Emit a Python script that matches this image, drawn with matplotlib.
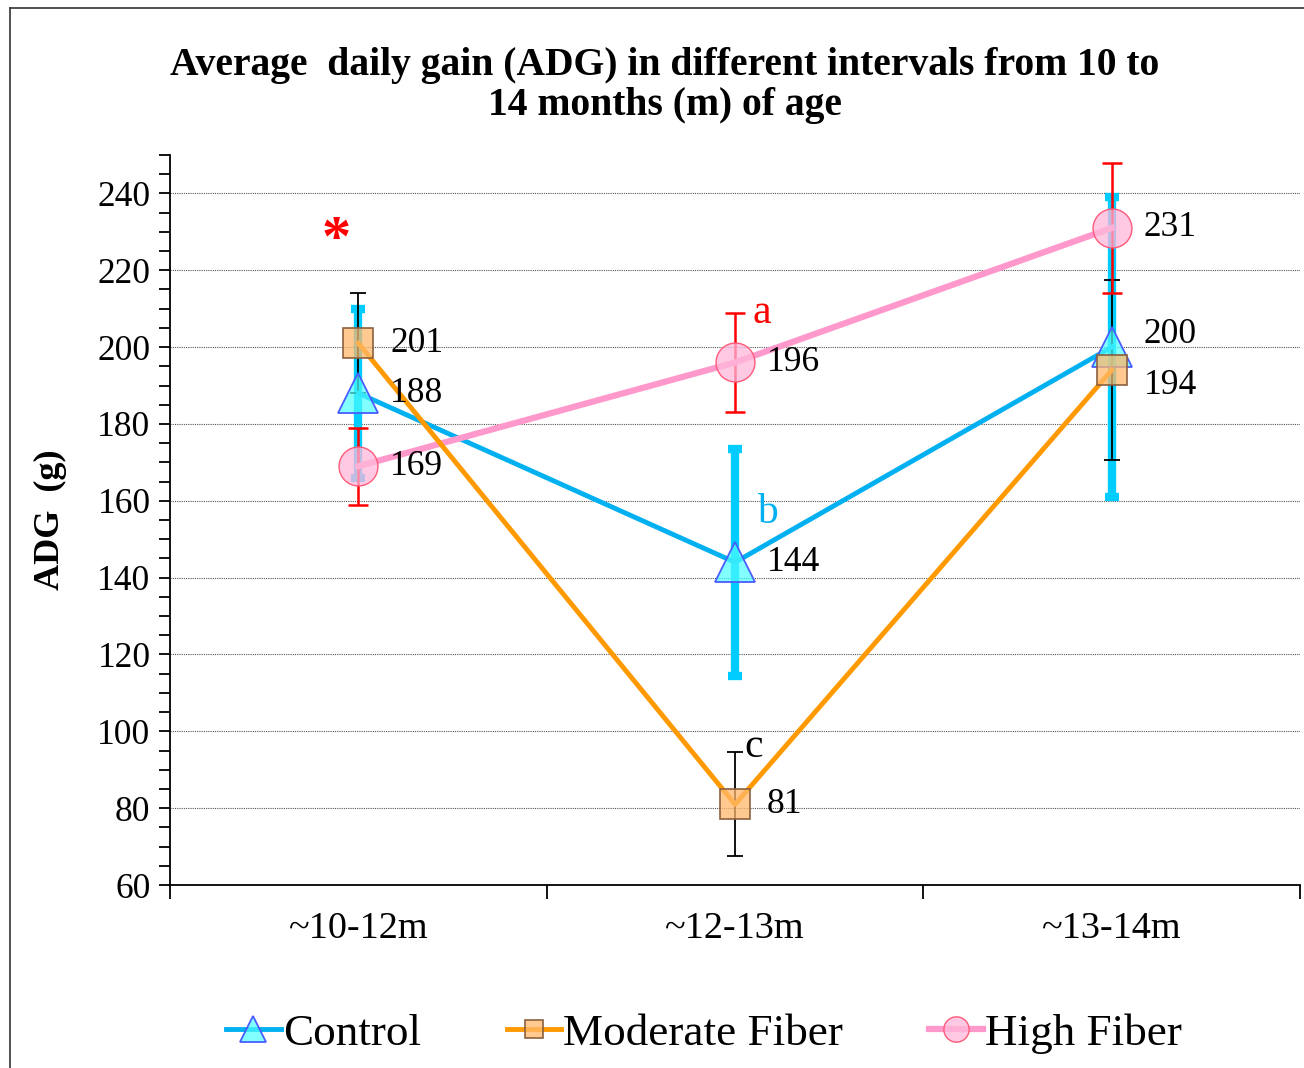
import numpy as np
import matplotlib
matplotlib.use("Agg")
import matplotlib.pyplot as plt
from matplotlib.lines import Line2D
from matplotlib.ticker import MultipleLocator, FixedLocator

plt.rcParams['font.family'] = ['Liberation Serif', 'DejaVu Serif']

# data
intervals = ['~10-12m', '~12-13m', '~13-14m']
control = [188, 144, 200]
control_err = [22, 29.5, 39]
moderate = [201, 81, 194]
moderate_err = [13, 13.5, 23.5]
high = [169, 196, 231]
high_err = [10, 13, 17]

# significance marks
sig_text = ['*', 'a', 'b', 'c']
sig_x = [-0.06, 1.07, 1.085, 1.05]
sig_y = [227.5, 209, 157, 96]
sig_col = ['red', 'red', '#00B0F0', 'black']

x = np.arange(len(intervals))

fig = plt.figure(figsize=(13.04, 10.68), dpi=100)
ax = fig.add_axes([0.1304, 0.1713, 0.8666, 0.6836])

# error bars first (cyan thick at the back)
ax.errorbar(x, control, yerr=control_err, fmt='none', ecolor='#00CCFF',
            elinewidth=6, capsize=5, capthick=6, zorder=2)
ax.errorbar(x, moderate, yerr=moderate_err, fmt='none', ecolor='black',
            elinewidth=1.3, capsize=6, capthick=1.3, zorder=3)
ax.errorbar(x, high, yerr=high_err, fmt='none', ecolor='red',
            elinewidth=1.8, capsize=7, capthick=1.8, zorder=3)

ax.plot(x, control, color='#00B0F0', lw=3.5, marker='^', ms=29,
        mfc=(0.3, 1.0, 1.0, 0.7), mec='#4A5CFF', mew=1.3, label='Control', zorder=4)
ax.plot(x, high, color='#FF99CC', lw=4.5, marker='o', ms=28,
        mfc=(1.0, 0.72, 0.86, 0.75), mec='#FF5A7A', mew=1.0, label='High Fiber', zorder=5)
ax.plot(x, moderate, color='#FF9900', lw=3.5, marker='s', ms=21,
        mfc=(1.0, 0.72, 0.42, 0.75), mec='#8B6040', mew=1.2, label='Moderate Fiber', zorder=6)

# value labels
offs = {'c': [(23, 0), (23, 0), (23, 9)],
        'm': [(23, 0), (23, 0), (23, -11)],
        'h': [(23, 0), (23, 0), (23, 0)]}
for key, vals in (('c', control), ('m', moderate), ('h', high)):
    for i, v in enumerate(vals):
        ax.annotate(str(v), (x[i], v), xytext=offs[key][i], textcoords='offset points',
                    ha='left', va='center', fontsize=25.5, zorder=7)

for t, tx, ty, c in zip(sig_text, sig_x, sig_y, sig_col):
    fs = 42 if t == '*' else 30
    ax.text(tx, ty, t, color=c, fontsize=fs, ha='center', va='center',
            fontweight='bold' if t == '*' else 'normal', zorder=7)

ax.set_xlim(-0.5, 2.5)
ax.set_ylim(60, 250)
ax.yaxis.set_major_locator(FixedLocator(np.arange(60, 241, 20)))
ax.yaxis.set_minor_locator(MultipleLocator(5))
ax.grid(axis='y', which='major', color='#555555', linestyle=(0, (1, 1)), lw=0.8, zorder=0)

ax.xaxis.set_major_locator(FixedLocator([-0.5, 0.5, 1.5, 2.5]))
ax.xaxis.set_major_formatter(plt.NullFormatter())
ax.xaxis.set_minor_locator(FixedLocator(x))
ax.set_xticklabels(intervals, minor=True)
ax.tick_params(axis='x', which='major', length=10, width=1.3, direction='out')
ax.tick_params(axis='x', which='minor', length=0, pad=19, labelsize=27.5)
ax.tick_params(axis='y', which='both', length=8, width=1.3, direction='out', labelsize=25.5, pad=6)

for s in ('top', 'right'):
    ax.spines[s].set_visible(False)
ax.spines['left'].set_linewidth(1.3)
ax.spines['bottom'].set_linewidth(1.3)

ax.set_ylabel('ADG  (g)', fontsize=26, fontweight='bold', labelpad=22)

fig.text(0.51, 0.92, 'Average  daily gain (ADG) in different intervals from 10 to\n14 months (m) of age',
         ha='center', va='center', fontsize=28.5, fontweight='bold', linespacing=1.12)

h, l = ax.get_legend_handles_labels()
order = [0, 2, 1]
fig.legend([h[i] for i in order], [l[i] for i in order], loc='center',
           bbox_to_anchor=(0.54, 0.032), ncol=3, frameon=False, fontsize=32.5,
           handlelength=1.2, handletextpad=0.05, columnspacing=1.9, markerscale=0.65)

# outer frame (left and top)
fig.add_artist(Line2D([0.0077, 0.0077], [0, 0.9925], color='#333333', lw=1.2))
fig.add_artist(Line2D([0.0077, 1.0], [0.9925, 0.9925], color='#333333', lw=1.2))

fig.savefig('out.png', dpi=100)
